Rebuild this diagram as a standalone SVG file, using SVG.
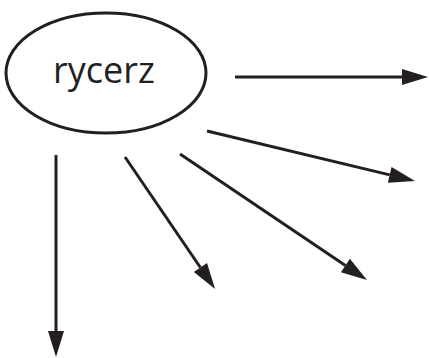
<svg xmlns="http://www.w3.org/2000/svg" width="429" height="358" viewBox="0 0 429 358">
<style>
.edge{stroke:#231f20;stroke-width:3;fill:none;marker-end:url(#ah)}
.node{fill:#fff;stroke:#231f20;stroke-width:3}
.label{font-family:"Open Sans","Noto Sans",sans-serif;font-size:36px;fill:#231f20;text-anchor:middle}
</style>
<defs>
<marker id="ah" markerUnits="userSpaceOnUse" markerWidth="26" markerHeight="16" refX="0" refY="8" orient="auto" overflow="visible">
<path d="M0,0 L26,8 L0,16 z" fill="#231f20"/>
</marker>
</defs>
<rect width="429" height="358" fill="#fff"/>
<g id="rycerz">
<ellipse class="node" cx="106" cy="73" rx="100" ry="60"/>
<text class="label" x="104" y="83">rycerz</text>
</g>
<g id="connectors">
<line class="edge" x1="235" y1="77" x2="402" y2="77"/>
<line class="edge" x1="207" y1="131" x2="389.7" y2="174.9"/>
<line class="edge" x1="180" y1="154" x2="345.4" y2="265.5"/>
<line class="edge" x1="125" y1="157" x2="200.4" y2="267.5"/>
<line class="edge" x1="56" y1="155" x2="56" y2="331"/>
</g>
</svg>
